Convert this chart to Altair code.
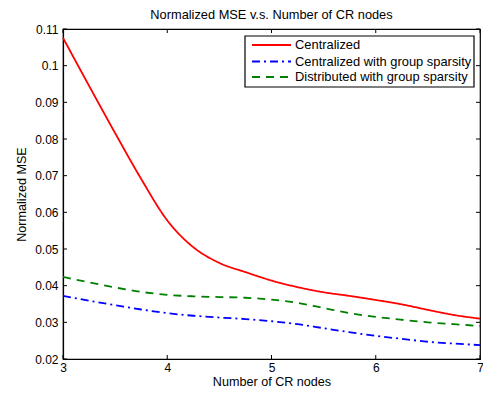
import altair as alt
import pandas as pd

# Data
x_vals = [3.0, 3.25, 3.5, 3.75, 4.0, 4.25, 4.5, 4.75, 5.0, 5.25, 5.5, 5.75, 6.0, 6.25, 6.5, 6.75, 7.0]
centralized = [0.1076, 0.0945, 0.0816, 0.0691, 0.0578, 0.0505, 0.0462, 0.0437, 0.0414, 0.0396,
               0.0382, 0.0372, 0.0361, 0.0349, 0.0334, 0.0320, 0.0310]
central_group = [0.0372, 0.0359, 0.0347, 0.0335, 0.0325, 0.0318, 0.0313, 0.0309, 0.0303, 0.0295,
                 0.0284, 0.0273, 0.0263, 0.0255, 0.0247, 0.0242, 0.0238]
distributed_group = [0.0424, 0.0409, 0.0395, 0.0383, 0.0375, 0.0371, 0.0369, 0.0367, 0.0362, 0.0353,
                     0.0339, 0.0325, 0.0315, 0.0307, 0.0300, 0.0295, 0.0290]
series_names = ["Centralized", "Centralized with group sparsity", "Distributed with group sparsity"]
series_colors = ["#ff0000", "#0000ff", "#008000"]
series_dashes = [[1, 0], [8, 4, 2, 4], [8, 6]]
x_ticks = [3, 4, 5, 6, 7]
y_ticks = [0.02, 0.03, 0.04, 0.05, 0.06, 0.07, 0.08, 0.09, 0.10, 0.11]

W, H = 417, 330
FONT = "Liberation Sans"
LW = 1.8

rows = []
for name, vals in zip(series_names, [centralized, central_group, distributed_group]):
    for xv, yv in zip(x_vals, vals):
        rows.append({"x": xv, "y": yv, "series": name})
df = pd.DataFrame(rows)

xs = alt.Scale(domain=[3, 7], nice=False, zero=False)
ys = alt.Scale(domain=[0.02, 0.11], nice=False, zero=False)

axis_common = dict(ticks=False, grid=False, labelFlush=False, labelOverlap=False,
                   labelFont=FONT, titleFont=FONT, labelFontSize=12, titleFontSize=12.6,
                   labelColor="black", titleColor="black", titleFontWeight="normal",
                   domainColor="black", domainWidth=1.2)
x_axis = alt.Axis(values=x_ticks, format="d", labelPadding=3, titlePadding=2, **axis_common)
y_axis = alt.Axis(values=y_ticks, format="~g", labelPadding=5, titlePadding=6, **axis_common)
X_TITLE = "Number of CR nodes"
Y_TITLE = "Normalized MSE"

lines = alt.Chart(df).mark_line(strokeWidth=LW, interpolate="monotone").encode(
    x=alt.X("x:Q", scale=xs, title=X_TITLE, axis=x_axis),
    y=alt.Y("y:Q", scale=ys, title=Y_TITLE, axis=y_axis),
    color=alt.Color("series:N", scale=alt.Scale(domain=series_names, range=series_colors), legend=None),
    strokeDash=alt.StrokeDash("series:N", scale=alt.Scale(domain=series_names, range=series_dashes),
                              legend=None),
)

xt = pd.DataFrame({"x": x_ticks})
yt = pd.DataFrame({"y": y_ticks})
tick_style = dict(color="black", strokeWidth=1)
xb = alt.Chart(xt).mark_rule(**tick_style).encode(
    x=alt.X("x:Q", scale=xs, title=X_TITLE, axis=x_axis), y=alt.value(H), y2=alt.value(H - 4))
xtop = alt.Chart(xt).mark_rule(**tick_style).encode(
    x=alt.X("x:Q", scale=xs, title=X_TITLE, axis=x_axis), y=alt.value(0), y2=alt.value(4))
yl = alt.Chart(yt).mark_rule(**tick_style).encode(
    y=alt.Y("y:Q", scale=ys, title=Y_TITLE, axis=y_axis), x=alt.value(0), x2=alt.value(4))
yr = alt.Chart(yt).mark_rule(**tick_style).encode(
    y=alt.Y("y:Q", scale=ys, title=Y_TITLE, axis=y_axis), x=alt.value(W), x2=alt.value(W - 4))

# Legend box (MATLAB style, inside top-right)
one = pd.DataFrame({"k": [0]})
legend_layers = [
    alt.Chart(one).mark_rect(fill="white", stroke="black", strokeWidth=1.2).encode(
        x=alt.value(182), x2=alt.value(411), y=alt.value(7), y2=alt.value(58))
]
row_y = [16, 32.5, 48]
for name, col, dash, yy in zip(series_names, series_colors, series_dashes, row_y):
    legend_layers.append(
        alt.Chart(one).mark_rule(color=col, strokeWidth=LW, strokeDash=dash).encode(
            x=alt.value(189), x2=alt.value(228), y=alt.value(yy)))
    legend_layers.append(
        alt.Chart(pd.DataFrame({"label": [name]})).mark_text(
            align="left", baseline="middle", font=FONT, fontSize=12.9, color="black").encode(
            text="label:N", x=alt.value(232), y=alt.value(yy)))

chart = alt.layer(lines, xb, xtop, yl, yr, *legend_layers).properties(
    width=W, height=H,
    background="white",
    title=alt.TitleParams("Normalized MSE v.s. Number of CR nodes", font=FONT, fontSize=12.8,
                          fontWeight="normal", color="black", offset=1),
    autosize=alt.AutoSizeParams(type="none"),
    padding={"left": 63, "top": 29, "right": 3, "bottom": 37},
).configure_view(stroke="black", strokeWidth=1.2)

chart.save("out.html", embed_options={"renderer": "svg", "actions": False})
